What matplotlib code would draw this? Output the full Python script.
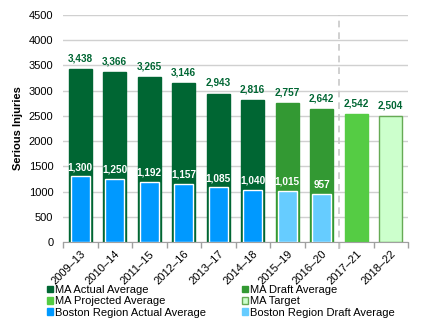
import matplotlib
matplotlib.use("Agg")
import matplotlib.pyplot as plt
from matplotlib.patches import Patch
import numpy as np

periods = ["2009\u201313", "2010\u201314", "2011\u201315", "2012\u201316", "2013\u201317",
           "2014\u201318", "2015\u201319", "2016\u201320", "2017\u201321", "2018\u201322"]
ma_values = [3438, 3366, 3265, 3146, 2943, 2816, 2757, 2642, 2542, 2504]
ma_kind = ["actual"] * 6 + ["draft"] * 2 + ["projected", "target"]
boston_values = [1300, 1250, 1192, 1157, 1085, 1040, 1015, 957]
boston_kind = ["actual"] * 6 + ["draft"] * 2

ma_face = {"actual": "#006633", "draft": "#339933", "projected": "#55cc44", "target": "#ccffcc"}
ma_edge = {"actual": "#006633", "draft": "#339933", "projected": "#55cc44", "target": "#66aa55"}
bos_face = {"actual": "#0099ff", "draft": "#66ccff"}

plt.rcParams['font.family'] = ['Liberation Sans', 'DejaVu Sans']

fig = plt.figure(figsize=(4.25, 3.31), dpi=100)
ax = fig.add_axes([63/425, 1 - 242/331, 345/425, 227/331])

x = np.arange(len(periods))
for i, v in enumerate(ma_values):
    k = ma_kind[i]
    ax.bar(x[i], v, width=0.67, color=ma_face[k], edgecolor=ma_edge[k], linewidth=1.0, zorder=2)
    ax.annotate(f"{v:,}", (x[i], v), xytext=(0, 4), textcoords="offset points",
                ha="center", va="bottom", fontsize=7.2, fontweight="bold", color="#006633")

for i, v in enumerate(boston_values):
    k = boston_kind[i]
    ax.bar(x[i], v, width=0.55, color=bos_face[k], edgecolor="white", linewidth=1.0, zorder=3)
    ax.annotate(f"{v:,}", (x[i], v), xytext=(0, 3), textcoords="offset points",
                ha="center", va="bottom", fontsize=7.2, fontweight="bold", color="white", zorder=4)

ax.set_xlim(-0.5, len(periods) - 0.5)
ax.set_ylim(0, 4500)
ax.set_yticks(np.arange(0, 4501, 500))
ax.yaxis.grid(True, color="#d0d0d0", linewidth=1.0, zorder=0)
ax.set_axisbelow(True)

ax.set_xticks(x)
ax.set_xticklabels(periods, rotation=45, ha="right", rotation_mode="anchor", fontsize=8)
ax.tick_params(axis="x", which="major", length=0, pad=5)
ax.set_xticks(np.arange(-0.5, len(periods), 1.0), minor=True)
ax.tick_params(axis="x", which="minor", length=4, color="#a0a0a0", width=1)
ax.tick_params(axis="y", length=0, labelsize=8, pad=7)

for s in ["top", "right", "left"]:
    ax.spines[s].set_visible(False)
ax.spines["bottom"].set_color("#a0a0a0")

ax.axvline(7.5, ymin=-0.03, ymax=1.0, color="#c8c8c8", linestyle=(0, (4, 3)), linewidth=1.2,
           clip_on=False, zorder=1)

ax.set_ylabel("Serious Injuries", fontsize=8, fontweight="bold", labelpad=4)

handles = [
    Patch(facecolor=ma_face["actual"], edgecolor=ma_face["actual"], label="MA Actual Average"),
    Patch(facecolor=ma_face["projected"], edgecolor=ma_face["projected"], label="MA Projected Average"),
    Patch(facecolor=bos_face["actual"], edgecolor=bos_face["actual"], label="Boston Region Actual Average"),
    Patch(facecolor=ma_face["draft"], edgecolor=ma_face["draft"], label="MA Draft Average"),
    Patch(facecolor=ma_face["target"], edgecolor=ma_edge["target"], label="MA Target"),
    Patch(facecolor=bos_face["draft"], edgecolor=bos_face["draft"], label="Boston Region Draft Average"),
]
fig.legend(handles=handles, ncol=2, loc="upper left", bbox_to_anchor=(47/425, 1 - 285/331),
           frameon=False, fontsize=8, handlelength=0.55, handleheight=0.55, handletextpad=0.2,
           columnspacing=3.2, labelspacing=0.12, borderaxespad=0, borderpad=0)

fig.savefig("out.png", dpi=100)
